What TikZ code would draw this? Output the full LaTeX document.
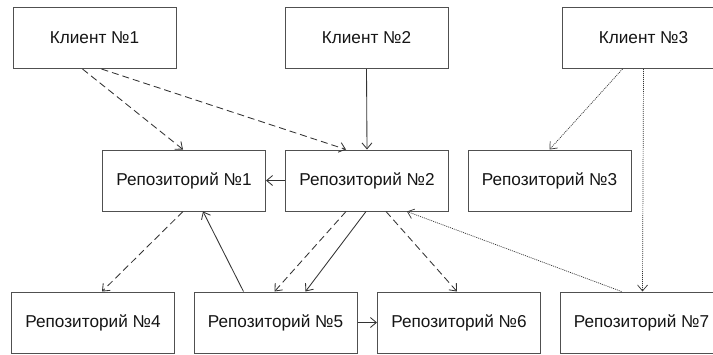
\documentclass[tikz,border=0pt]{standalone}
\usepackage{fontspec}
\setmainfont{Liberation Sans}
\usetikzlibrary{arrows.meta}
\definecolor{boxc}{HTML}{505050}
\definecolor{linec}{HTML}{333333}
\definecolor{txtc}{HTML}{151515}
\tikzset{
  box/.style={draw=boxc, line width=1pt, minimum width=163pt, minimum height=61pt, inner sep=0pt, text=txtc, font=\fontsize{17.2}{19}\selectfont},
  conn/.style={draw=linec, line width=0.85pt, -{Straight Barb[length=6pt,width=10pt]}},
  dashc/.style={conn, dash pattern=on 7pt off 4pt},
  dotc/.style={conn, line width=0.7pt, dash pattern=on 1pt off 1pt}
}
\begin{document}
\begin{tikzpicture}[x=1pt,y=-1pt]
\clip (0,0) rectangle (713,354);
\fill[white] (0,0) rectangle (713,354);
\node[box] (c1) at (94.5,38) {Клиент №1};
\node[box] (c2) at (366.5,38) {Клиент №2};
\node[box] (c3) at (643.5,38) {Клиент №3};
\node[box] (r1) at (184,180.5) {Репозиторий №1};
\node[box] (r2) at (367,180.5) {Репозиторий №2};
\node[box] (r3) at (549.5,180.5) {Репозиторий №3};
\node[box] (r4) at (93,322.5) {Репозиторий №4};
\node[box] (r5) at (275.5,322.5) {Репозиторий №5};
\node[box] (r6) at (459,322.5) {Репозиторий №6};
\node[box] (r7) at (641.5,322.5) {Репозиторий №7};
% client connections
\draw[dashc] ([xshift=70pt]c1.south west) -- ([xshift=81pt]r1.north west);
\draw[dashc] ([xshift=89pt]c1.south west) -- ([xshift=61pt]r2.north west);
\draw[conn] (c2.south) -- (r2.north);
\draw[dotc] ([xshift=61pt]c3.south west) -- ([xshift=82pt]r3.north west);
\draw[dotc] (c3.south) -- ([xshift=83pt]r7.north west);
% repository connections
\draw[conn] (r2.west) -- (r1.east);
\draw[dashc] ([xshift=81pt]r1.south west) -- ([xshift=91pt]r4.north west);
\draw[conn] ([xshift=50pt]r5.north west) -- ([xshift=101pt]r1.south west);
\draw[dashc] ([xshift=61pt]r2.south west) -- ([xshift=81pt]r5.north west);
\draw[conn] ([xshift=81pt]r2.south west) -- ([xshift=112pt]r5.north west);
\draw[dashc] ([xshift=101pt]r2.south west) -- ([xshift=80pt]r6.north west);
\draw[dotc] ([xshift=62pt]r7.north west) -- ([xshift=122pt]r2.south west);
\draw[conn] (r5.east) -- (r6.west);
\end{tikzpicture}
\end{document}
